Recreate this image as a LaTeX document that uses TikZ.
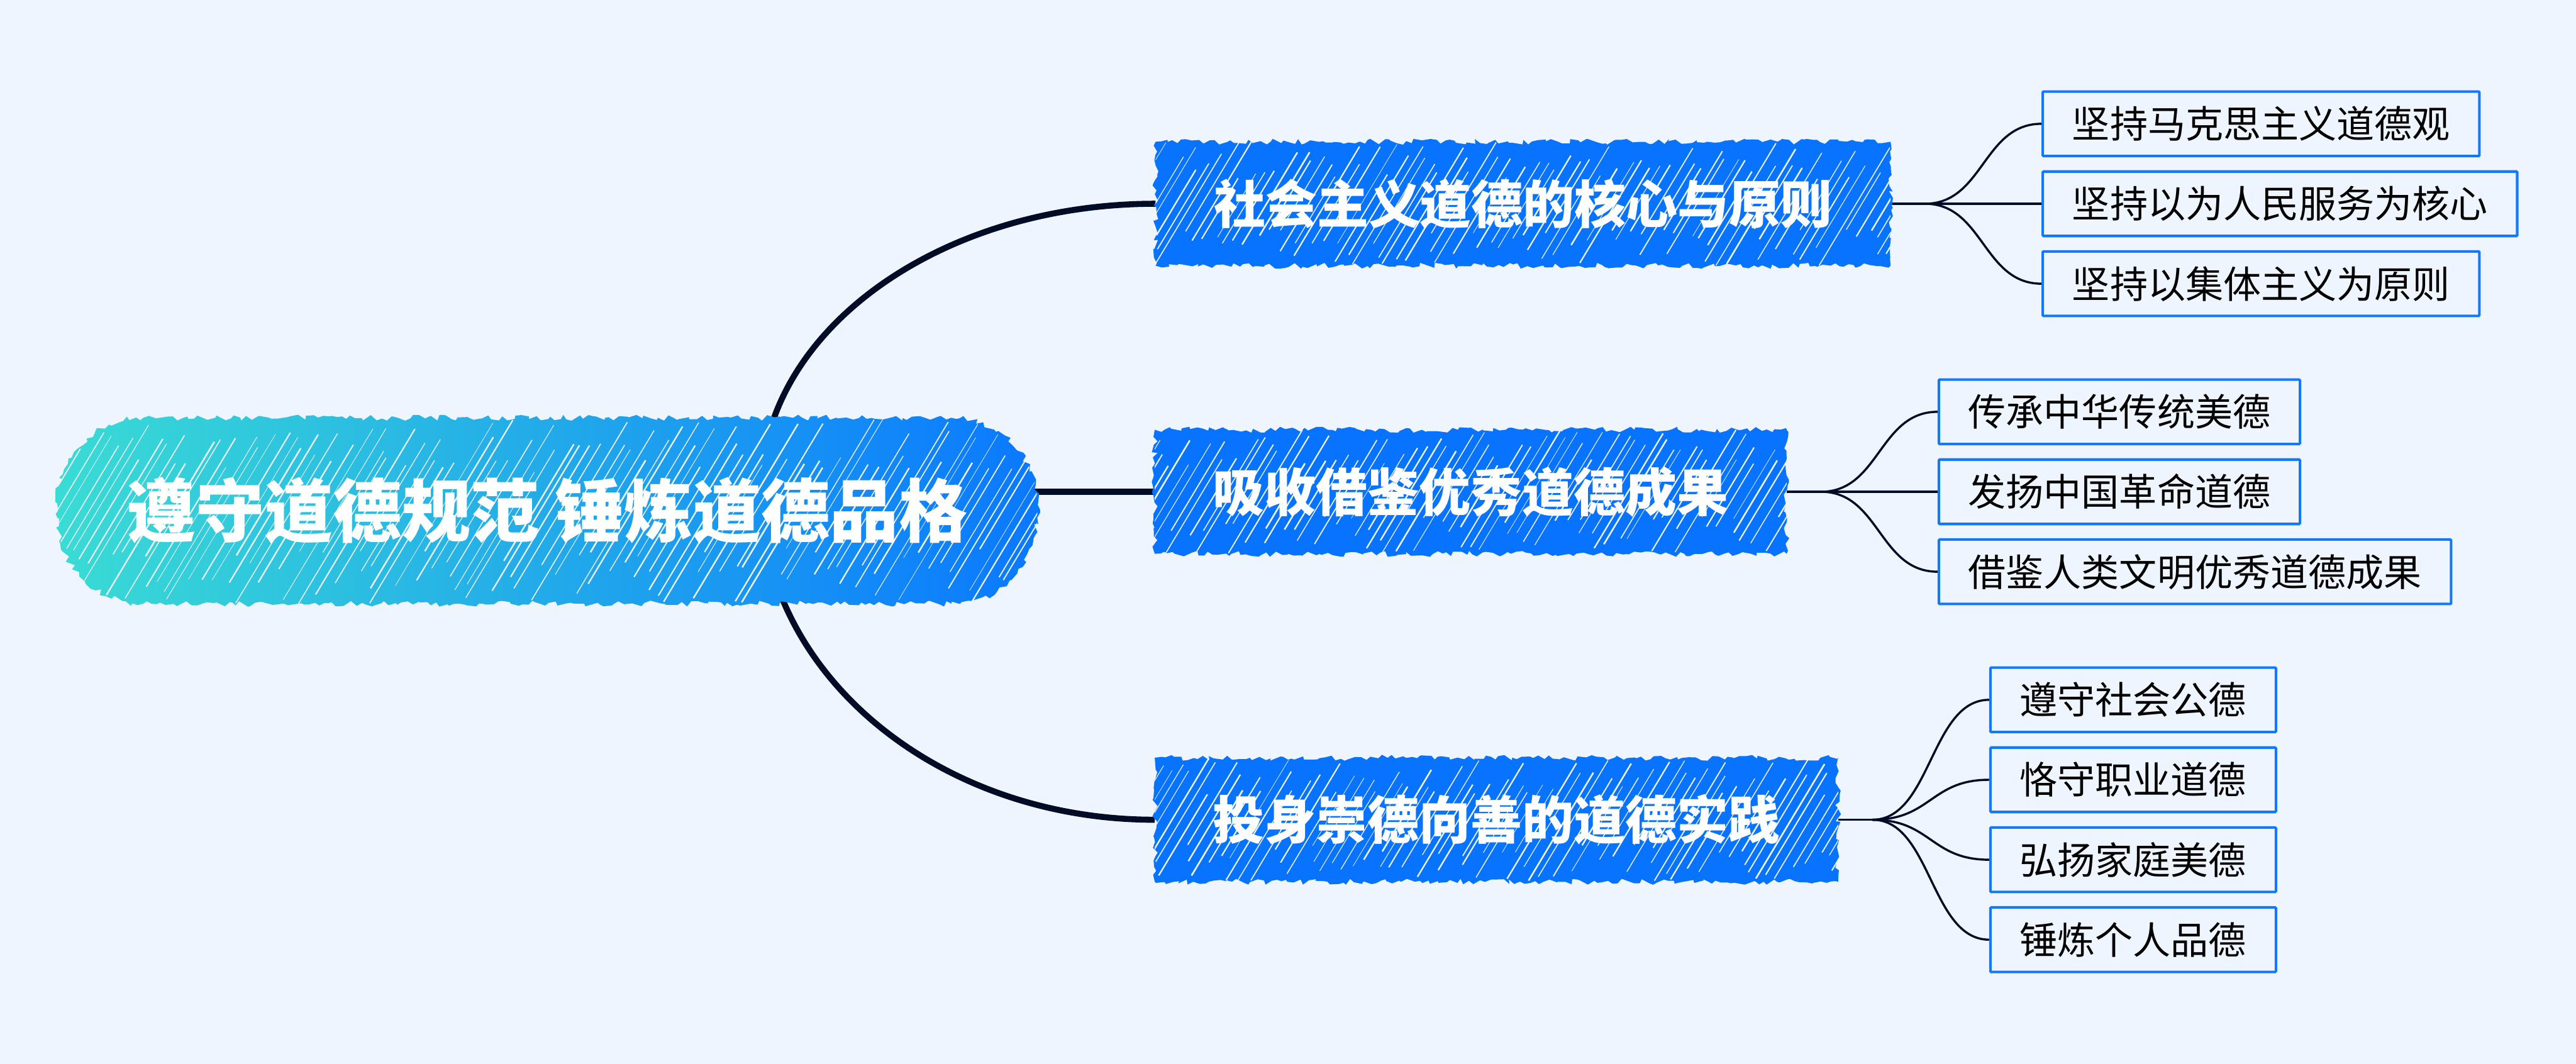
\documentclass[tikz,border=0pt]{standalone}
\usepackage{fontspec}
\newfontfamily\cjk{Noto Sans CJK SC}
\usetikzlibrary{calc,decorations.pathmorphing}
\definecolor{bgc}{HTML}{EEF5FE}
\definecolor{rootL}{HTML}{3ADCD4}
\definecolor{rootR}{HTML}{0A78FF}
\definecolor{branchc}{HTML}{0873FE}
\definecolor{leafblue}{HTML}{1079FF}
\definecolor{linec}{HTML}{000C26}
\pgfdeclarelayer{bglayer}
\pgfdeclarelayer{linelayer}
\pgfdeclarelayer{filllayer}
\pgfsetlayers{bglayer,linelayer,filllayer,main}
\tikzset{
  rootnode/.style={minimum width=22.78cm, minimum height=4.31cm, inner sep=0pt,
    text=white, font=\cjk\bfseries\fontsize{45.5pt}{52pt}\selectfont,
    text height=1.32cm, text depth=0.11cm},
  branchnode/.style={minimum height=2.87cm, inner xsep=1.35cm, inner ysep=0pt,
    text=white, font=\cjk\bfseries\fontsize{34.1pt}{40pt}\selectfont,
    text height=1.0cm, text depth=0.084cm},
  leafnode/.style={draw=leafblue, line width=0.06cm, fill=bgc, minimum height=1.50cm,
    inner xsep=0.685cm, inner ysep=0pt, rounded corners=0.02cm,
    font=\cjk\fontsize{25pt}{30pt}\selectfont, text=black,
    text height=0.73cm, text depth=0.06cm},
  mainline/.style={draw=linec, line width=0.14cm},
  leafline/.style={draw=linec, line width=0.05cm},
  jag/.style={decorate, decoration={random steps, segment length=0.11cm, amplitude=0.07cm}},
}
% gap strokes of the scribbled fill: xL xR yB yT
\newcommand\myhatch[4]{%
  \pgfmathsetmacro\hh{#4-(#3)}%
  \pgfmathsetmacro\dd{0.6*\hh}%
  \pgfmathtruncatemacro\nn{((#2)-(#1)+\dd)/0.24}%
  \foreach \k in {0,...,\nn}{%
    \pgfmathsetmacro\xx{(#1)-\dd+\k*0.24+0.14*rnd}%
    \pgfmathsetmacro\ta{0.3*rnd}%
    \pgfmathsetmacro\tb{0.7+0.3*rnd}%
    \pgfmathsetmacro\ww{0.01+0.028*rnd}%
    \draw[draw=bgc, line width={\ww cm}] ({\xx+\ta*\dd},{(#3)+\ta*\hh}) -- ({\xx+\tb*\dd},{(#3)+\tb*\hh});
  }%
}
\begin{document}
\begin{tikzpicture}
\useasboundingbox (0,0) rectangle (59.92,-24.75);
\begin{pgfonlayer}{bglayer}
  \fill[bgc] (0,0) rectangle (59.92,-24.75);
\end{pgfonlayer}

% nodes
\node[rootnode] (root) at (12.73,-11.88) {遵守道德规范 锤炼道德品格};
\node[branchnode, anchor=west] (b1) at (26.88,-4.74) {社会主义道德的核心与原则};
\node[branchnode, anchor=west] (b2) at (26.86,-11.44) {吸收借鉴优秀道德成果};
\node[branchnode, anchor=west] (b3) at (26.86,-19.07) {投身崇德向善的道德实践};

\node[leafnode, anchor=west] (l11) at ($(b1.east)+(3.51,1.86)$) {坚持马克思主义道德观};
\node[leafnode, anchor=west] (l12) at ($(b1.east)+(3.51,0)$) {坚持以为人民服务为核心};
\node[leafnode, anchor=west] (l13) at ($(b1.east)+(3.51,-1.86)$) {坚持以集体主义为原则};

\node[leafnode, anchor=west] (l21) at ($(b2.east)+(3.51,1.86)$) {传承中华传统美德};
\node[leafnode, anchor=west] (l22) at ($(b2.east)+(3.51,0)$) {发扬中国革命道德};
\node[leafnode, anchor=west] (l23) at ($(b2.east)+(3.51,-1.86)$) {借鉴人类文明优秀道德成果};

\node[leafnode, anchor=west] (l31) at ($(b3.east)+(3.51,2.79)$) {遵守社会公德};
\node[leafnode, anchor=west] (l32) at ($(b3.east)+(3.51,0.93)$) {恪守职业道德};
\node[leafnode, anchor=west] (l33) at ($(b3.east)+(3.51,-0.93)$) {弘扬家庭美德};
\node[leafnode, anchor=west] (l34) at ($(b3.east)+(3.51,-2.79)$) {锤炼个人品德};

% connectors
\begin{pgfonlayer}{linelayer}
  \coordinate (hub) at (17.7,-11.44);
  \draw[mainline] (hub) .. controls +(0,3.70) and +(-5.08,0) .. (b1.west);
  \draw[mainline] (hub) -- (b2.west);
  \draw[mainline] (hub) .. controls +(0,-4.21) and +(-5.08,0) .. (b3.west);

  \coordinate (f1) at ($(b1.east)+(0.8,0)$);
  \coordinate (f2) at ($(b2.east)+(0.8,0)$);
  \coordinate (f3) at ($(b3.east)+(0.8,0)$);
  \draw[leafline] (b1.east) -- (f1);
  \draw[leafline] (b2.east) -- (f2);
  \draw[leafline] (b3.east) -- (f3);
  \foreach \f/\l in {f1/l11,f1/l12,f1/l13,f2/l21,f2/l22,f2/l23,f3/l31,f3/l32,f3/l33,f3/l34}{
    \draw[leafline] (\f) .. controls +(1.36,0) and +(-1.36,0) .. (\l.west);
  }
\end{pgfonlayer}

% scribbled fills
\begin{pgfonlayer}{filllayer}
  \pgfmathsetseed{4242}
  \shade[left color=rootL, right color=rootR, jag]
    let \p1=(root.north west), \p2=(root.south east) in
    (\x1+2cm,\y1) -- (\x2-2cm,\y1) arc[start angle=90, end angle=0, radius=2cm]
    -- (\x2,\y2+2cm) arc[start angle=0, end angle=-90, radius=2cm]
    -- (\x1+2cm,\y2) arc[start angle=270, end angle=180, radius=2cm]
    -- (\x1,\y1-2cm) arc[start angle=180, end angle=90, radius=2cm] -- cycle;
  \begin{scope}
    \clip let \p1=(root.north west), \p2=(root.south east) in
    (\x1+2cm,\y1) -- (\x2-2cm,\y1) arc[start angle=90, end angle=0, radius=2cm]
    -- (\x2,\y2+2cm) arc[start angle=0, end angle=-90, radius=2cm]
    -- (\x1+2cm,\y2) arc[start angle=270, end angle=180, radius=2cm]
    -- (\x1,\y1-2cm) arc[start angle=180, end angle=90, radius=2cm] -- cycle;
    \myhatch{1.34}{24.12}{-14.04}{-9.72}
  \end{scope}

  \foreach \b in {b1,b2,b3}{
    \fill[branchc, jag] (\b.south west) rectangle (\b.north east);
  }
  \begin{scope}
    \clip (b1.south west) rectangle (b1.north east);
    \myhatch{26.88}{43.98}{-6.18}{-3.30}
  \end{scope}
  \begin{scope}
    \clip (b2.south west) rectangle (b2.north east);
    \myhatch{26.86}{41.57}{-12.88}{-10.00}
  \end{scope}
  \begin{scope}
    \clip (b3.south west) rectangle (b3.north east);
    \myhatch{26.86}{42.76}{-20.51}{-17.63}
  \end{scope}
\end{pgfonlayer}
\end{tikzpicture}
\end{document}
